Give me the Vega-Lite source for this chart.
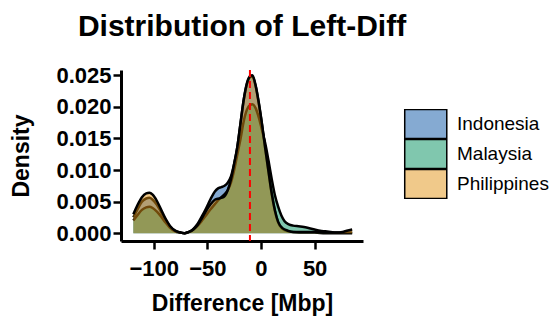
{
  "$schema": "https://vega.github.io/schema/vega-lite/v6.json",
  "width": 242,
  "height": 171,
  "autosize": {"type": "none"},
  "padding": {"left": 121, "top": 70, "right": 191, "bottom": 84},
  "title": {"text": "Distribution of Left-Diff", "font": "Liberation Sans", "fontSize": 30, "fontWeight": "bold", "color": "black", "anchor": "middle", "baseline": "alphabetic", "offset": -2},
  "config": {
    "view": {"stroke": null},
    "axis": {"grid": false, "domainColor": "black", "domainWidth": 3, "tickColor": "black", "tickWidth": 2.5, "tickSize": 8, "labelFont": "Liberation Sans", "labelFontWeight": "bold", "labelFontSize": 22, "labelColor": "black", "titleFont": "Liberation Sans", "titleFontSize": 23, "titleFontWeight": "bold", "titleColor": "black"}
  },
  "datasets": {
    "dens": [
      {"country":"Indonesia","x":-119,"density":0.0025},{"country":"Indonesia","x":-115,"density":0.0038},{"country":"Indonesia","x":-111,"density":0.0050},{"country":"Indonesia","x":-107,"density":0.0055},{"country":"Indonesia","x":-104,"density":0.0056},{"country":"Indonesia","x":-101,"density":0.0053},{"country":"Indonesia","x":-97,"density":0.0045},{"country":"Indonesia","x":-93,"density":0.0033},{"country":"Indonesia","x":-89,"density":0.0021},{"country":"Indonesia","x":-85,"density":0.0011},{"country":"Indonesia","x":-80,"density":0.0004},{"country":"Indonesia","x":-75,"density":0.0001},{"country":"Indonesia","x":-71,"density":0.0},{"country":"Indonesia","x":-67,"density":0.0002},{"country":"Indonesia","x":-63,"density":0.0007},{"country":"Indonesia","x":-59,"density":0.0015},{"country":"Indonesia","x":-55,"density":0.0027},{"country":"Indonesia","x":-51,"density":0.0040},{"country":"Indonesia","x":-47,"density":0.0054},{"country":"Indonesia","x":-43,"density":0.0066},{"country":"Indonesia","x":-40,"density":0.0071},{"country":"Indonesia","x":-37,"density":0.0073},{"country":"Indonesia","x":-34,"density":0.0075},{"country":"Indonesia","x":-31,"density":0.0080},{"country":"Indonesia","x":-28,"density":0.0090},{"country":"Indonesia","x":-25,"density":0.0110},{"country":"Indonesia","x":-22,"density":0.0137},{"country":"Indonesia","x":-19,"density":0.0175},{"country":"Indonesia","x":-16,"density":0.0212},{"country":"Indonesia","x":-13,"density":0.0237},{"country":"Indonesia","x":-10,"density":0.0247},{"country":"Indonesia","x":-8,"density":0.0248},{"country":"Indonesia","x":-5,"density":0.0233},{"country":"Indonesia","x":-2,"density":0.0205},{"country":"Indonesia","x":1,"density":0.0171},{"country":"Indonesia","x":4,"density":0.0133},{"country":"Indonesia","x":7,"density":0.0097},{"country":"Indonesia","x":10,"density":0.0062},{"country":"Indonesia","x":13,"density":0.0035},{"country":"Indonesia","x":16,"density":0.0017},{"country":"Indonesia","x":20,"density":0.0007},{"country":"Indonesia","x":25,"density":0.0003},{"country":"Indonesia","x":30,"density":0.0002},{"country":"Indonesia","x":40,"density":0.0001},{"country":"Indonesia","x":50,"density":0.0001},{"country":"Indonesia","x":60,"density":0.0},{"country":"Indonesia","x":70,"density":0.0},{"country":"Indonesia","x":85,"density":0.0},
      {"country":"Malaysia","x":-119,"density":0.0020},{"country":"Malaysia","x":-115,"density":0.0029},{"country":"Malaysia","x":-111,"density":0.0037},{"country":"Malaysia","x":-107,"density":0.0041},{"country":"Malaysia","x":-104,"density":0.0042},{"country":"Malaysia","x":-101,"density":0.0040},{"country":"Malaysia","x":-97,"density":0.0034},{"country":"Malaysia","x":-93,"density":0.0026},{"country":"Malaysia","x":-89,"density":0.0017},{"country":"Malaysia","x":-85,"density":0.0009},{"country":"Malaysia","x":-80,"density":0.0003},{"country":"Malaysia","x":-75,"density":0.0001},{"country":"Malaysia","x":-71,"density":0.0},{"country":"Malaysia","x":-67,"density":0.0002},{"country":"Malaysia","x":-63,"density":0.0006},{"country":"Malaysia","x":-59,"density":0.0012},{"country":"Malaysia","x":-55,"density":0.0020},{"country":"Malaysia","x":-51,"density":0.0029},{"country":"Malaysia","x":-47,"density":0.0038},{"country":"Malaysia","x":-43,"density":0.0046},{"country":"Malaysia","x":-39,"density":0.0054},{"country":"Malaysia","x":-35,"density":0.0060},{"country":"Malaysia","x":-31,"density":0.0068},{"country":"Malaysia","x":-28,"density":0.0080},{"country":"Malaysia","x":-25,"density":0.0100},{"country":"Malaysia","x":-22,"density":0.0125},{"country":"Malaysia","x":-19,"density":0.0150},{"country":"Malaysia","x":-16,"density":0.0178},{"country":"Malaysia","x":-13,"density":0.0196},{"country":"Malaysia","x":-10,"density":0.0203},{"country":"Malaysia","x":-8,"density":0.0204},{"country":"Malaysia","x":-5,"density":0.0198},{"country":"Malaysia","x":-2,"density":0.0183},{"country":"Malaysia","x":1,"density":0.0163},{"country":"Malaysia","x":4,"density":0.0142},{"country":"Malaysia","x":7,"density":0.0115},{"country":"Malaysia","x":10,"density":0.0086},{"country":"Malaysia","x":13,"density":0.0060},{"country":"Malaysia","x":16,"density":0.0042},{"country":"Malaysia","x":19,"density":0.0028},{"country":"Malaysia","x":22,"density":0.0019},{"country":"Malaysia","x":26,"density":0.0014},{"country":"Malaysia","x":30,"density":0.0012},{"country":"Malaysia","x":35,"density":0.0011},{"country":"Malaysia","x":40,"density":0.0010},{"country":"Malaysia","x":45,"density":0.0008},{"country":"Malaysia","x":50,"density":0.0006},{"country":"Malaysia","x":55,"density":0.0004},{"country":"Malaysia","x":60,"density":0.0003},{"country":"Malaysia","x":65,"density":0.0002},{"country":"Malaysia","x":70,"density":0.0001},{"country":"Malaysia","x":75,"density":0.0001},{"country":"Malaysia","x":80,"density":0.0001},{"country":"Malaysia","x":85,"density":0.0001},
      {"country":"Philippines","x":-119,"density":0.0030},{"country":"Philippines","x":-115,"density":0.0045},{"country":"Philippines","x":-111,"density":0.0057},{"country":"Philippines","x":-107,"density":0.0063},{"country":"Philippines","x":-104,"density":0.0064},{"country":"Philippines","x":-101,"density":0.0061},{"country":"Philippines","x":-97,"density":0.0051},{"country":"Philippines","x":-93,"density":0.0037},{"country":"Philippines","x":-89,"density":0.0023},{"country":"Philippines","x":-85,"density":0.0012},{"country":"Philippines","x":-80,"density":0.0004},{"country":"Philippines","x":-75,"density":0.0001},{"country":"Philippines","x":-71,"density":0.0},{"country":"Philippines","x":-67,"density":0.0002},{"country":"Philippines","x":-63,"density":0.0006},{"country":"Philippines","x":-59,"density":0.0013},{"country":"Philippines","x":-55,"density":0.0024},{"country":"Philippines","x":-51,"density":0.0036},{"country":"Philippines","x":-47,"density":0.0046},{"country":"Philippines","x":-43,"density":0.0053},{"country":"Philippines","x":-39,"density":0.0055},{"country":"Philippines","x":-35,"density":0.0057},{"country":"Philippines","x":-31,"density":0.0068},{"country":"Philippines","x":-28,"density":0.0085},{"country":"Philippines","x":-25,"density":0.0110},{"country":"Philippines","x":-22,"density":0.0137},{"country":"Philippines","x":-19,"density":0.0175},{"country":"Philippines","x":-16,"density":0.0212},{"country":"Philippines","x":-13,"density":0.0238},{"country":"Philippines","x":-10,"density":0.0249},{"country":"Philippines","x":-8,"density":0.0250},{"country":"Philippines","x":-5,"density":0.0234},{"country":"Philippines","x":-2,"density":0.0206},{"country":"Philippines","x":1,"density":0.0172},{"country":"Philippines","x":4,"density":0.0134},{"country":"Philippines","x":7,"density":0.0098},{"country":"Philippines","x":10,"density":0.0063},{"country":"Philippines","x":13,"density":0.0036},{"country":"Philippines","x":16,"density":0.0018},{"country":"Philippines","x":20,"density":0.0008},{"country":"Philippines","x":25,"density":0.0004},{"country":"Philippines","x":30,"density":0.0002},{"country":"Philippines","x":40,"density":0.0002},{"country":"Philippines","x":50,"density":0.0002},{"country":"Philippines","x":60,"density":0.0001},{"country":"Philippines","x":70,"density":0.0001},{"country":"Philippines","x":76,"density":0.0002},{"country":"Philippines","x":80,"density":0.0004},{"country":"Philippines","x":85,"density":0.0006}
    ],
    "median": [{"value": -10.3}]
  },
  "encoding": {
    "x": {"field": "x", "type": "quantitative", "scale": {"domain": [-130.5, 95.1], "nice": false, "zero": false}, "axis": {"values": [-100, -50, 0, 50], "title": "Difference [Mbp]", "labelPadding": 9, "titlePadding": 13}},
    "y": {"field": "density", "type": "quantitative", "scale": {"domain": [-0.00123, 0.02583], "nice": false, "zero": false}, "axis": {"values": [0, 0.005, 0.01, 0.015, 0.02, 0.025], "format": ".3f", "title": "Density", "labelPadding": 2, "titlePadding": 22}}
  },
  "layer": [
    {"data": {"name": "dens"}, "transform": [{"filter": "datum.country === 'Indonesia'"}], "mark": {"type": "area", "interpolate": "monotone", "fillOpacity": 0.5}, "encoding": {"y2": {"datum": 0}, "fill": {"field": "country", "type": "nominal", "scale": {"domain": ["Indonesia", "Malaysia", "Philippines"], "range": ["#0b55a5", "#018f5d", "#e19315"]}, "legend": {"title": null, "orient": "none", "legendX": 282, "legendY": 39, "symbolType": "M-0.95,-1L1.95,-1L1.95,1L-0.95,1Z", "symbolSize": 841, "symbolStrokeColor": "black", "symbolStrokeWidth": 1.5, "labelFont": "Liberation Sans", "labelFontSize": 19, "labelColor": "black", "labelOffset": 23, "rowPadding": 0, "clipHeight": 30, "encode": {"symbols": {"update": {"fillOpacity": {"value": 0.5}, "strokeOpacity": {"value": 1}, "stroke": {"value": "black"}}}}}}}},
    {"data": {"name": "dens"}, "transform": [{"filter": "datum.country === 'Indonesia'"}], "mark": {"type": "line", "interpolate": "monotone", "color": "black", "strokeWidth": 2.5}, "encoding": {}},
    {"data": {"name": "dens"}, "transform": [{"filter": "datum.country === 'Malaysia'"}], "mark": {"type": "area", "interpolate": "monotone", "fillOpacity": 0.5}, "encoding": {"y2": {"datum": 0}, "fill": {"field": "country", "type": "nominal"}}},
    {"data": {"name": "dens"}, "transform": [{"filter": "datum.country === 'Malaysia'"}], "mark": {"type": "line", "interpolate": "monotone", "color": "black", "strokeWidth": 2.5}, "encoding": {}},
    {"data": {"name": "dens"}, "transform": [{"filter": "datum.country === 'Philippines'"}], "mark": {"type": "area", "interpolate": "monotone", "fillOpacity": 0.5}, "encoding": {"y2": {"datum": 0}, "fill": {"field": "country", "type": "nominal"}}},
    {"data": {"name": "dens"}, "transform": [{"filter": "datum.country === 'Philippines'"}], "mark": {"type": "line", "interpolate": "monotone", "color": "black", "strokeWidth": 2.5}, "encoding": {}},
    {"data": {"name": "median"}, "mark": {"type": "rule", "color": "#ff0000", "strokeWidth": 2, "strokeDash": [7, 4]}, "encoding": {"x": {"field": "value", "type": "quantitative"}, "y": null}}
  ]
}
